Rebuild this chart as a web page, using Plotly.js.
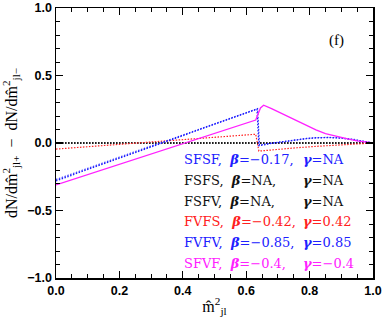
<!DOCTYPE html>
<html>
<head>
<meta charset="utf-8">
<script src="https://cdn.plot.ly/plotly-3.0.1.min.js"></script>
<style>
  html, body { margin: 0; padding: 0; background: #fff; }
  #chart { width: 382px; height: 320px; }
</style>
</head>
<body>
<div id="chart"></div>
<script>
// valores (f)
const x_sfsf = [0.0, 0.634, 0.64, 0.66, 0.68, 0.707, 0.73, 0.76, 0.79, 0.82, 0.86, 0.90, 0.94, 0.97, 1.0];
const y_sfsf = [-0.28, 0.25, -0.02, -0.01, -0.003, 0.005, 0.013, 0.022, 0.032, 0.038, 0.04, 0.036, 0.025, 0.012, 0.0];

const x_zero = [0.0, 1.0];
const y_fsfs = [0.0, 0.0];
const y_fsfv = [0.0, 0.0];

const x_fvfs = [0.0, 0.63, 0.64, 0.66, 0.707, 0.76, 0.82, 0.88, 0.95, 1.0];
const y_fvfs = [-0.045, 0.065, -0.06, -0.055, -0.045, -0.035, -0.025, -0.017, -0.008, 0.0];

const x_fvfv = [0.0, 0.636, 0.642, 0.66, 0.68, 0.707, 0.73, 0.76, 0.79, 0.82, 0.86, 0.90, 0.94, 0.97, 1.0];
const y_fvfv = [-0.27, 0.255, -0.015, -0.006, 0.0, 0.008, 0.016, 0.025, 0.034, 0.04, 0.042, 0.038, 0.027, 0.013, 0.0];

const x_sfvf = [0.0, 0.63, 0.645, 0.655, 0.68, 0.707, 0.73, 0.76, 0.79, 0.82, 0.85, 0.886, 0.92, 0.95, 0.98, 1.0];
const y_sfvf = [-0.31, 0.17, 0.26, 0.28, 0.255, 0.225, 0.2, 0.165, 0.13, 0.097, 0.07, 0.048, 0.03, 0.016, 0.005, 0.0];

// etiquetas de la leyenda
const labels = ["SFSF", "FSFS", "FSFV", "FVFS", "FVFV", "SFVF"];
const betas  = ["\u22120.17", "NA", "NA", "\u22120.42", "\u22120.85", "\u22120.4"];
const gammas = ["NA", "NA", "NA", "0.42", "0.85", "\u22120.4"];
const colors = ["#2020ff", "#111111", "#111111", "#ff2020", "#2020ff", "#ff20ff"];

const serif = "Liberation Serif, Times New Roman, serif";
const legendFont = "DejaVu Serif, serif";
const dots = '1.5px,1.5px';

const traces = [
  { x: x_zero, y: y_fsfs, mode: 'lines', line: { color: '#111', dash: dots, width: 1.4 } },
  { x: x_zero, y: y_fsfv, mode: 'lines', line: { color: '#111', dash: dots, width: 1.4 } },
  { x: x_fvfs, y: y_fvfs, mode: 'lines', line: { color: '#ff2020', dash: dots, width: 1.2 } },
  { x: x_sfsf, y: y_sfsf, mode: 'lines', line: { color: '#2020ff', dash: dots, width: 1.3 } },
  { x: x_fvfv, y: y_fvfv, mode: 'lines', line: { color: '#2020ff', dash: dots, width: 1.1 } },
  { x: x_sfvf, y: y_sfvf, mode: 'lines', line: { color: '#ff20ff', width: 1.3 } }
];

// anotaciones: dos columnas por fila
const annotations = [];
for (let i = 0; i < labels.length; i++) {
  const yy = -0.124 - i * 0.153;
  annotations.push({
    x: 0.397, y: yy, xref: 'x', yref: 'y', xanchor: 'left', yanchor: 'middle',
    text: labels[i] + ",\u00a0 <b><i>\u03b2</i></b>=" + betas[i] + ",",
    showarrow: false, font: { family: legendFont, size: 13, color: colors[i] }
  });
  annotations.push({
    x: 0.773, y: yy, xref: 'x', yref: 'y', xanchor: 'left', yanchor: 'middle',
    text: "<b><i>\u03b3</i></b>=" + gammas[i],
    showarrow: false, font: { family: legendFont, size: 13, color: colors[i] }
  });
}
annotations.push({
  x: 0.886, y: 0.76, xref: 'x', yref: 'y', xanchor: 'center', yanchor: 'middle',
  text: "(f)", showarrow: false, font: { family: serif, size: 15, color: '#000' }
});

const axisBase = {
  showline: true, linecolor: '#000', linewidth: 1.5, mirror: 'allticks',
  ticks: 'inside', ticklen: 7, tickwidth: 1.2, tickcolor: '#000',
  showgrid: false, zeroline: false,
  tickfont: { family: 'Liberation Sans, Arial, sans-serif', size: 12.5, color: '#000', weight: 'bold' }
};

const layout = {
  width: 382, height: 320,
  margin: { l: 56, r: 9, t: 8, b: 42 },
  paper_bgcolor: '#fff', plot_bgcolor: '#fff',
  showlegend: false,
  xaxis: Object.assign({}, axisBase, {
    range: [0, 1], dtick: 0.2, tick0: 0, tickformat: '.1f',
    minor: { dtick: 0.05, ticks: 'inside', ticklen: 4, tickcolor: '#000', tickwidth: 1 },
    title: { text: "m\u0302<sup>2</sup><sub>jl</sub>", font: { family: serif, size: 16, color: '#000' }, standoff: 4 }
  }),
  yaxis: Object.assign({}, axisBase, {
    range: [-1, 1], dtick: 0.5, tick0: 0, tickformat: '.1f',
    minor: { dtick: 0.1, ticks: 'inside', ticklen: 4, tickcolor: '#000', tickwidth: 1 },
    title: { text: "dN/dm\u0302<sup>2</sup><sub>jl+</sub>  \u2212  dN/dm\u0302<sup>2</sup><sub>jl\u2212</sub>", font: { family: serif, size: 16, color: '#000' }, standoff: 6 }
  }),
  annotations: annotations
};

Plotly.newPlot('chart', traces, layout, { staticPlot: true });
</script>
</body>
</html>
